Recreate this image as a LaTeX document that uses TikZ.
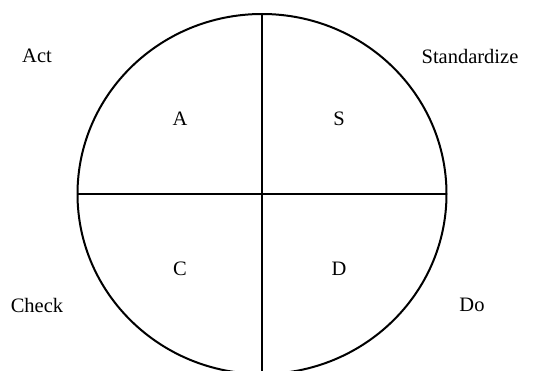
\documentclass[tikz,border=0pt]{standalone}
\usepackage{fontspec}
\setmainfont{Liberation Serif}
\begin{document}
\begin{tikzpicture}
[x=1pt, y=1pt, node distance=159pt, font=\fontsize{20.5}{24}\selectfont]
\tikzstyle{quarter}=[inner sep=0pt]
\tikzstyle{stage}=[inner sep=0pt]
\useasboundingbox (0,0) rectangle (533,370);
\clip (0,0) rectangle (533,370);

\coordinate (O) at (262,176);
\coordinate (T) at (262,356);
\coordinate (B) at (262,-4);
\coordinate (L) at (77.5,176);
\coordinate (R) at (446.5,176);

\node[quarter]	(A)	at (180,251) {A};
\node[quarter]	(S)	[right of=A] {S};
\node[quarter]	(C)	[below of=A, node distance=150pt] {C};
\node[quarter]	(D)	[right of=C] {D};

\node[stage]	(act)	at (37,314) {Act};
\node[stage]	(std)	at (470,314) {Standardize};
\node[stage]	(check)	at (37,65) {Check};
\node[stage]	(do)	at (472,65) {Do};

\draw[line width=2pt]   (O) ellipse [x radius=184.5, y radius=180];
\draw[line width=1.2pt] (T)--(B);
\draw[line width=1.2pt] (L)--(R);

\end{tikzpicture}
\end{document}
